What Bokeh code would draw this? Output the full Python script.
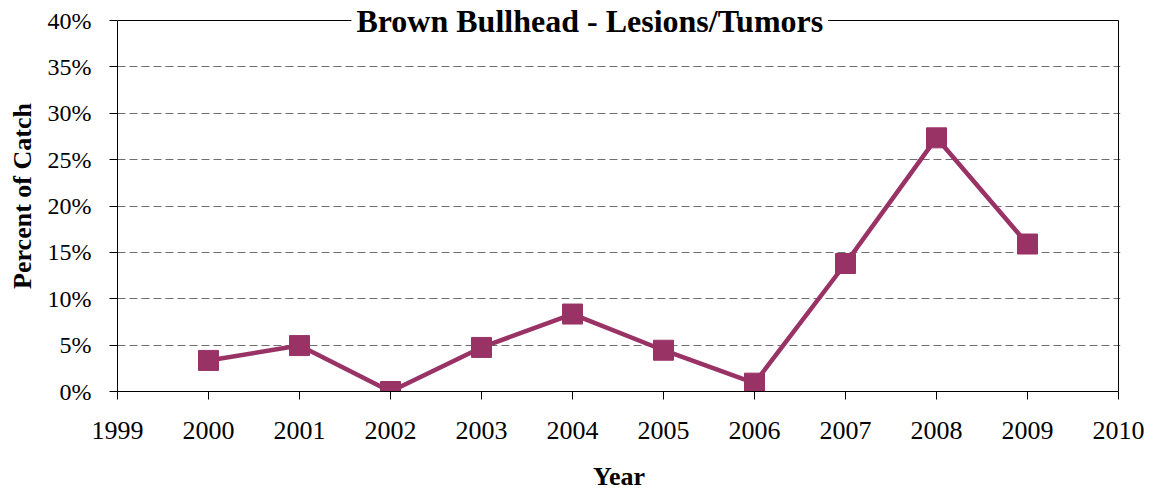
from bokeh.plotting import figure
from bokeh.models import FixedTicker, PrintfTickFormatter, Range1d, Label, ColumnDataSource
from bokeh.embed import file_html
from bokeh.resources import INLINE

years = [2000, 2001, 2002, 2003, 2004, 2005, 2006, 2007, 2008, 2009]
percent = [3.35, 4.95, 0.0, 4.75, 8.35, 4.45, 0.9, 13.8, 27.35, 15.9]
x_ticks = list(range(1999, 2011))
y_ticks = [0, 5, 10, 15, 20, 25, 30, 35, 40]
title_text = "Brown Bullhead - Lesions/Tumors"
x_label = "Year"
y_label = "Percent of Catch"

COLOR = "#993366"
FONT = "Liberation Serif"

X0, X1 = x_ticks[0], x_ticks[-1]
Y0, Y1 = y_ticks[0], y_ticks[-1]

PX_PER_Y = 371 / (Y1 - Y0)
PX_PER_X = 1001 / (X1 - X0)

src = ColumnDataSource(dict(x=years, y=percent))

p = figure(
    frame_width=1003, frame_height=391,
    min_border_left=117, min_border_top=0, min_border_right=30, min_border_bottom=97,
    x_range=Range1d(X0, X1 + 2 / PX_PER_X),
    y_range=Range1d(Y0, Y1 + 20 / PX_PER_Y),
    output_backend="svg", toolbar_location=None, tools="",
)
p.background_fill_color = "white"
p.border_fill_color = "white"
p.outline_line_color = None

p.segment(x0=[X0, X1], y0=[Y1, Y0], x1=[X1, X1], y1=[Y1, Y1],
          line_color="black", line_width=1)

p.line("x", "y", source=src, line_color=COLOR, line_width=4.5)
p.scatter("x", "y", source=src, marker="square", size=20,
          fill_color=COLOR, line_color=COLOR)

p.xaxis.ticker = FixedTicker(ticks=x_ticks)
p.yaxis.ticker = FixedTicker(ticks=y_ticks)
p.yaxis.formatter = PrintfTickFormatter(format="%d%%")
p.xaxis.bounds = (X0, X1)
p.yaxis.bounds = (Y0, Y1)

for ax in (p.xaxis, p.yaxis):
    ax.axis_line_color = "black"
    ax.axis_line_width = 1
    ax.major_tick_line_color = "black"
    ax.major_tick_out = 8
    ax.major_tick_in = 0
    ax.minor_tick_line_color = None
    ax.major_label_text_font = FONT
    ax.major_label_text_color = "black"
    ax.axis_label_text_font = FONT
    ax.axis_label_text_font_size = "26px"
    ax.axis_label_text_font_style = "bold"
    ax.axis_label_text_color = "black"

p.xaxis.major_label_text_font_size = "26px"
p.yaxis.major_label_text_font_size = "24px"
p.xaxis.axis_label = x_label
p.yaxis.axis_label = y_label
p.xaxis.major_label_standoff = 22
p.xaxis.axis_label_standoff = 20
p.xaxis.axis_label_text_line_height = 0.7
p.yaxis.major_label_standoff = 18
p.yaxis.axis_label_standoff = 8

p.xgrid.grid_line_color = None
p.ygrid.ticker = FixedTicker(ticks=y_ticks[1:-1])
p.ygrid.bounds = (X0, X1)
p.ygrid.grid_line_color = "#6e6e6e"
p.ygrid.grid_line_dash = "8 4"
p.ygrid.grid_line_width = 1

title = Label(
    x=2004.19, y=39.9, text=title_text,
    text_font=FONT, text_font_size="32px", text_font_style="bold",
    text_color="black", text_align="center", text_baseline="alphabetic",
    background_fill_color="white", padding=5, level="overlay",
)
p.add_layout(title)

open("out.html", "w").write(file_html(p, INLINE))
